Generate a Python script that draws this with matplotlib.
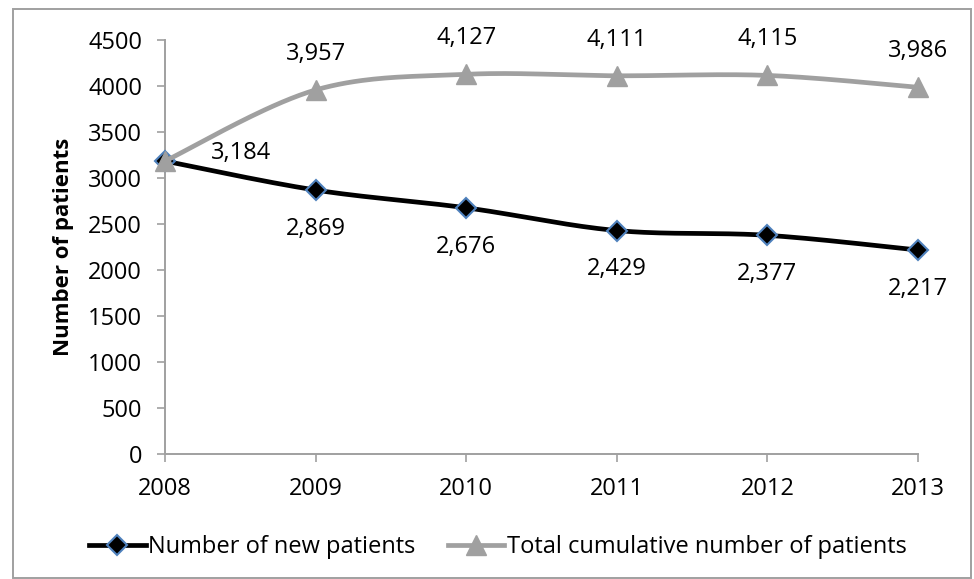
import numpy as np
import matplotlib
matplotlib.use("Agg")
import matplotlib.pyplot as plt
from matplotlib.patches import Rectangle
from matplotlib.lines import Line2D

years = [2008, 2009, 2010, 2011, 2012, 2013]
new_patients = [3184, 2869, 2676, 2429, 2377, 2217]
total_patients = [3184, 3957, 4127, 4111, 4115, 3986]
new_labels = ["3,184", "2,869", "2,676", "2,429", "2,377", "2,217"]
total_labels = [None, "3,957", "4,127", "4,111", "4,115", "3,986"]
yticks = [0, 500, 1000, 1500, 2000, 2500, 3000, 3500, 4000, 4500]

plt.rcParams["font.family"] = ["Open Sans", "DejaVu Sans"]
FS = 17

W, H = 974, 579
fig = plt.figure(figsize=(W / 100, H / 100), dpi=100)
ax = fig.add_axes([165 / W, 1 - 454 / H, (918 - 165) / W, (454 - 40) / H])

# px per unit, so the smoothing behaves like Excel's (screen space)
SX, SY = 753 / 5.0, 414 / 4500.0


def smooth(xs, ys, n=40):
    """Excel-like smoothed line: cubic Bezier through the points (Catmull-Rom tangents)."""
    p = np.column_stack([np.asarray(xs, float) * SX, np.asarray(ys, float) * SY])
    out = []
    for i in range(len(p) - 1):
        p0 = p[i - 1] if i > 0 else p[i]
        p1, p2 = p[i], p[i + 1]
        p3 = p[i + 2] if i + 2 < len(p) else p[i + 1]
        c1 = p1 + (p2 - p0) / 6.0
        c2 = p2 - (p3 - p1) / 6.0
        t = np.linspace(0, 1, n)[:, None]
        seg = ((1 - t) ** 3) * p1 + 3 * ((1 - t) ** 2) * t * c1 + 3 * (1 - t) * t ** 2 * c2 + t ** 3 * p2
        out.append(seg)
    pts = np.vstack(out)
    return pts[:, 0] / SX, pts[:, 1] / SY


blk = "#000000"
gry = "#a0a0a0"
edge = "#4f81bd"

sx, sy = smooth(years, new_patients)
ax.plot(sx, sy, color=blk, lw=3.4, zorder=3, solid_capstyle="round", clip_on=False)
ax.plot(years, new_patients, ls="none", marker="D", ms=10, mfc=blk, mec=edge, mew=1.5,
        zorder=4, clip_on=False)

gx, gy = smooth(years, total_patients)
ax.plot(gx, gy, color=gry, lw=3.4, zorder=5, solid_capstyle="round", clip_on=False)
ax.plot(years, total_patients, ls="none", marker="^", ms=14, mfc=gry, mec=gry,
        zorder=6, clip_on=False)

for i, (x, v, s) in enumerate(zip(years, new_patients, new_labels)):
    if i == 0:
        ax.annotate(s, (x, v), xytext=(55, 6), textcoords="offset points",
                    ha="center", va="center", fontsize=FS)
    else:
        ax.annotate(s, (x, v), xytext=(0, -28), textcoords="offset points",
                    ha="center", va="center", fontsize=FS)
for x, v, s in zip(years, total_patients, total_labels):
    if s:
        ax.annotate(s, (x, v), xytext=(0, 26), textcoords="offset points",
                    ha="center", va="center", fontsize=FS)

ax.set_xlim(2008, 2013)
ax.set_ylim(0, 4500)
ax.set_xticks(years)
ax.set_yticks(yticks)
ax.tick_params(axis="both", labelsize=FS, color=gry, length=5.5, width=1.2, direction="out")
ax.tick_params(axis="x", pad=11)
ax.tick_params(axis="y", pad=11)
for side in ("top", "right"):
    ax.spines[side].set_visible(False)
for side in ("left", "bottom"):
    ax.spines[side].set_color(gry)
    ax.spines[side].set_linewidth(1.4)
ax.set_ylabel("Number of patients", fontsize=16, fontweight="bold", labelpad=10)

handles = [
    Line2D([], [], color=blk, lw=3.4, marker="D", ms=10, mfc=blk, mec=edge, mew=1.5),
    Line2D([], [], color=gry, lw=3.4, marker="^", ms=14, mfc=gry, mec=gry),
]
fig.legend(handles, ["Number of new patients", "Total cumulative number of patients"],
           loc="center", bbox_to_anchor=(498 / W, 1 - 547 / H), ncol=2, frameon=False,
           fontsize=FS, handlelength=2.4, handletextpad=0.12, columnspacing=1.35,
           borderpad=0, borderaxespad=0)

fig.patches.append(Rectangle((13 / W, 0.002), (971 - 13) / W, 1 - 9 / H - 0.002,
                             transform=fig.transFigure, fill=False, ec=gry, lw=1.4))

fig.savefig("out.png", dpi=100)
